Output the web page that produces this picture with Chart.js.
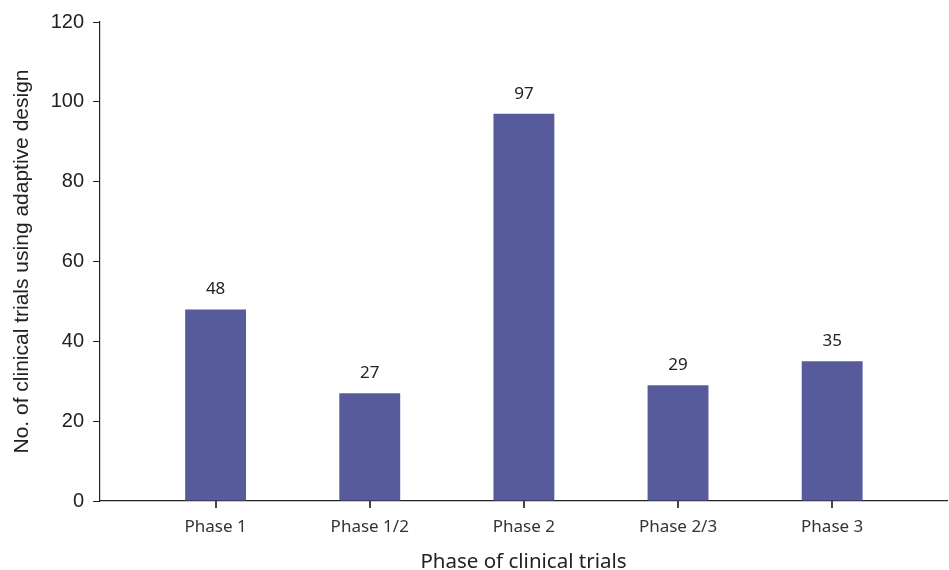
<!DOCTYPE html>
<html>
<head>
<meta charset="utf-8">
<script src="https://cdn.jsdelivr.net/npm/chart.js@4/dist/chart.umd.min.js"></script>
<style>
html,body{margin:0;padding:0;background:#fff;}
#wrap{width:949px;height:570px;position:relative;}
</style>
</head>
<body>
<div id="wrap"><canvas id="c" width="949" height="570"></canvas></div>
<script>
const categories = ["Phase 1", "Phase 1/2", "Phase 2", "Phase 2/3", "Phase 3"];
const trialCounts = [48, 27, 97, 29, 35];
const yTicks = [0, 20, 40, 60, 80, 100, 120];
const xTitle = "Phase of clinical trials";
const yTitle = "No. of clinical trials using adaptive design";

const labelFont = "'Noto Sans', sans-serif";
const numFont = "'Liberation Sans', Arial, sans-serif";

const valueLabels = {
  id: 'valueLabels',
  afterDatasetsDraw(chart) {
    const ctx = chart.ctx;
    const meta = chart.getDatasetMeta(0);
    ctx.save();
    ctx.fillStyle = '#222';
    ctx.font = "17px " + labelFont;
    ctx.textAlign = 'center';
    ctx.textBaseline = 'middle';
    meta.data.forEach((bar, i) => {
      ctx.fillText(String(trialCounts[i]), bar.x, bar.y - 20);
    });
    ctx.restore();
  },
  afterDraw(chart) {
    // x tick marks at category positions, via the x scale
    const ctx = chart.ctx;
    const xs = chart.scales.x;
    const yPix = chart.scales.y.getPixelForValue(0);
    ctx.save();
    ctx.fillStyle = '#444';
    categories.forEach((_, i) => {
      const px = Math.round(xs.getPixelForValue(i));
      ctx.fillRect(px - 1, yPix, 2, 7);
    });
    ctx.restore();
  }
};

new Chart(document.getElementById('c'), {
  type: 'bar',
  data: {
    datasets: [{
      data: trialCounts.map((v, i) => ({x: i, y: v})),
      backgroundColor: '#585b9b',
      borderWidth: 0,
      barPercentage: 0.395,
      categoryPercentage: 1.0
    }]
  },
  options: {
    responsive: false,
    animation: false,
    events: [],
    layout: {padding: {top: 22, right: 2, left: 0, bottom: 0}},
    plugins: {legend: {display: false}, tooltip: {enabled: false}},
    scales: {
      x: {
        type: 'linear',
        offset: false,
        min: -0.75,
        max: 4.745,
        afterBuildTicks(scale) {
          scale.ticks = categories.map((_, i) => ({value: i}));
        },
        afterFit(scale) { scale.height = 69; },
        grid: {offset: false, drawOnChartArea: false, drawTicks: true, tickLength: 6, color: 'rgba(0,0,0,0)'},
        border: {display: true, color: '#222', width: 1.2},
        ticks: {
          autoSkip: false,
          maxRotation: 0,
          padding: 10,
          color: '#333',
          font: {family: labelFont, size: 17},
          callback: (v) => categories[v]
        },
        title: {
          display: true,
          text: xTitle,
          color: '#222',
          font: {family: labelFont, size: 20.5, lineHeight: 0.8},
          padding: {top: 11, bottom: 0}
        }
      },
      y: {
        min: 0,
        max: 120,
        afterBuildTicks(scale) {
          scale.ticks = yTicks.map(v => ({value: v}));
        },
        afterFit(scale) { scale.width = 100; },
        grid: {drawOnChartArea: false, drawTicks: true, tickLength: 7, color: '#222'},
        border: {display: true, color: '#222', width: 1.2},
        ticks: {
          padding: 9,
          color: '#222',
          font: {family: numFont, size: 20}
        },
        title: {
          display: true,
          text: yTitle,
          color: '#222',
          font: {family: numFont, size: 21},
          padding: {top: 10, bottom: 2}
        }
      }
    }
  },
  plugins: [valueLabels]
});
</script>
</body>
</html>
